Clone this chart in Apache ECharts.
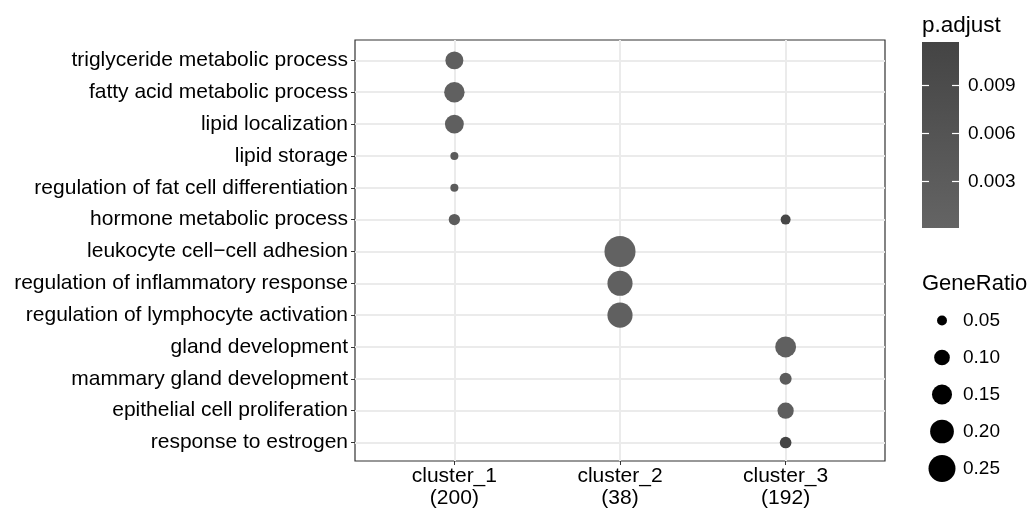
<!DOCTYPE html>
<html>
<head>
<meta charset="utf-8">
<script src="https://cdn.jsdelivr.net/npm/echarts@6/dist/echarts.min.js"></script>
<style>html,body{margin:0;padding:0;background:#fff;}#chart{width:1035px;height:508px;}</style>
</head>
<body>
<div id="chart"></div>
<script>
// ---- data ----
const terms = [
  'triglyceride metabolic process',
  'fatty acid metabolic process',
  'lipid localization',
  'lipid storage',
  'regulation of fat cell differentiation',
  'hormone metabolic process',
  'leukocyte cell\u2212cell adhesion',
  'regulation of inflammatory response',
  'regulation of lymphocyte activation',
  'gland development',
  'mammary gland development',
  'epithelial cell proliferation',
  'response to estrogen'
];
const clusterNames = ['cluster_1', 'cluster_2', 'cluster_3'];
const clusterCounts = [200, 38, 192];

// one entry per dot
const ptTerm    = [0, 1, 2, 3, 4, 5, 5, 6, 7, 8, 9, 10, 11, 12];
const ptCluster = [0, 0, 0, 0, 0, 0, 2, 1, 1, 1, 2, 2, 2, 2];
const ptRatio   = [0.125, 0.155, 0.135, 0.037, 0.037, 0.060, 0.050, 0.320, 0.220, 0.220, 0.160, 0.066, 0.106, 0.063];
const ptPadj    = [0.0018, 0.0016, 0.0020, 0.0035, 0.0035, 0.0030, 0.0105, 0.0010, 0.0014, 0.0014, 0.0016, 0.0030, 0.0022, 0.0117];

const padjRange = [0.0001, 0.0117];
const padjTicks = [0.003, 0.006, 0.009];
const sizeBreaks = [0.05, 0.10, 0.15, 0.20, 0.25];

// ---- helpers ----
const FONT = 'Liberation Sans, Arial, sans-serif';
const lowColor = '#646464', highColor = '#444444';
function dotSize(r) { return Math.max(2, 61.6 * Math.sqrt(r) - 3.8); }

const pts = ptTerm.map((t, i) => [ptCluster[i], t, ptRatio[i], ptPadj[i]]);
const xIdx = clusterNames.map((_, i) => i);
const yIdx = terms.map((_, i) => i);

const chart = echarts.init(document.getElementById('chart'), null, {renderer: 'canvas'});
chart.setOption({
  animation: false,
  backgroundColor: '#ffffff',
  textStyle: {fontFamily: FONT},
  title: [
    {text: 'p.adjust', left: 922, top: 14, padding: 0,
     textStyle: {fontFamily: FONT, fontSize: 22.5, fontWeight: 'normal', color: '#000'}},
    {text: 'GeneRatio', left: 922, top: 273, padding: 0,
     textStyle: {fontFamily: FONT, fontSize: 22, fontWeight: 'normal', color: '#000'}}
  ],
  grid: [
    {left: 355, top: 40, width: 530, height: 421, show: true, borderColor: '#333333', borderWidth: 1.2,
     backgroundColor: '#fff', containLabel: false, outerBoundsMode: 'none'},
    {left: 922, top: 42, width: 37, height: 186, show: false, outerBoundsMode: 'none'},
    {left: 925, top: 302, width: 34, height: 185, show: false, outerBoundsMode: 'none'}
  ],
  xAxis: [
    {gridIndex: 0, type: 'value', min: -0.6, max: 2.6,
     axisLine: {show: false, onZero: false},
     axisTick: {show: true, customValues: xIdx, length: 4, lineStyle: {color: '#333', width: 1}},
     axisLabel: {customValues: xIdx, formatter: v => clusterNames[v] + '\n(' + clusterCounts[v] + ')',
                 fontFamily: FONT, fontSize: 21, color: '#000', lineHeight: 22, margin: 4},
     splitLine: {show: true, lineStyle: {color: '#ebebeb', width: 2}}},
    {gridIndex: 1, type: 'category', data: ['bar'], show: false},
    {gridIndex: 2, type: 'value', min: 0, max: 2, show: false}
  ],
  yAxis: [
    {gridIndex: 0, type: 'value', min: -0.64, max: 12.58, inverse: true,
     axisLine: {show: false, onZero: false},
     axisTick: {show: true, customValues: yIdx, length: 4, lineStyle: {color: '#333', width: 1}},
     axisLabel: {customValues: yIdx, formatter: v => terms[v], fontFamily: FONT, fontSize: 21, color: '#000', margin: 7},
     splitLine: {show: true, lineStyle: {color: '#ebebeb', width: 2}}},
    {gridIndex: 1, type: 'value', min: padjRange[0], max: padjRange[1], position: 'right', z: 10,
     axisLine: {show: false, onZero: false}, splitLine: {show: false},
     axisTick: {show: true, inside: true, customValues: padjTicks, length: 7, lineStyle: {color: '#ffffff', width: 1.2}},
     axisLabel: {customValues: padjTicks, formatter: v => v.toFixed(3), fontFamily: FONT, fontSize: 19, color: '#000', margin: 9}},
    {gridIndex: 1, type: 'value', min: padjRange[0], max: padjRange[1], position: 'left', z: 10,
     axisLine: {show: false, onZero: false}, splitLine: {show: false}, axisLabel: {show: false},
     axisTick: {show: true, inside: true, customValues: padjTicks, length: 7, lineStyle: {color: '#ffffff', width: 1.2}}},
    {gridIndex: 2, type: 'category', data: sizeBreaks.map(v => v.toFixed(2)), inverse: true, position: 'right',
     axisLine: {show: false, onZero: false}, axisTick: {show: false}, splitLine: {show: false},
     axisLabel: {fontFamily: FONT, fontSize: 19, color: '#000', margin: 4, align: 'left'}}
  ],
  visualMap: [{
    show: false, type: 'continuous', seriesIndex: 0, dimension: 3,
    min: padjRange[0], max: padjRange[1],
    inRange: {color: [lowColor, highColor]}
  }],
  series: [
    {type: 'scatter', xAxisIndex: 0, yAxisIndex: 0, data: pts,
     symbolSize: v => dotSize(v[2]), itemStyle: {opacity: 1}, z: 3},
    {type: 'bar', xAxisIndex: 1, yAxisIndex: 1, data: [padjRange[1]], barWidth: '100%', clip: true, z: 1,
     itemStyle: {color: new echarts.graphic.LinearGradient(0, 0, 0, 1, [
       {offset: 0, color: highColor}, {offset: 1, color: lowColor}])}},
    {type: 'scatter', xAxisIndex: 2, yAxisIndex: 3,
     data: sizeBreaks.map(v => [1, v.toFixed(2), v]),
     symbolSize: v => dotSize(v[2]), itemStyle: {color: '#000000', opacity: 1}}
  ]
});
</script>
</body>
</html>
